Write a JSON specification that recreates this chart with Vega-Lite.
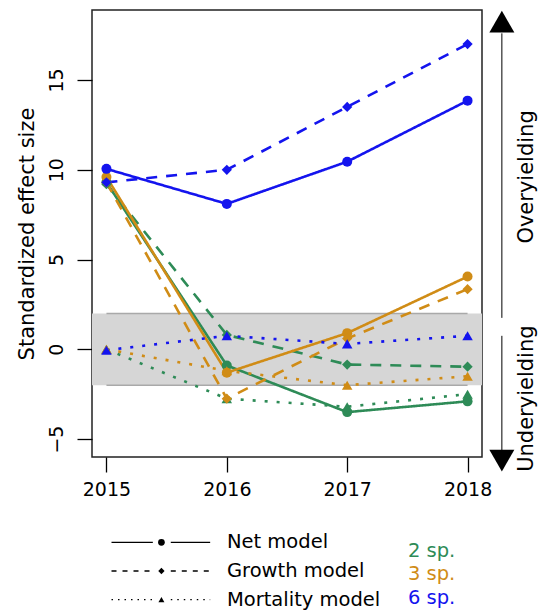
{
  "$schema": "https://vega.github.io/schema/vega-lite/v6.json",
  "padding": {"left": 15, "top": 9, "right": 0, "bottom": 0},
  "config": {
    "font": "DejaVu Sans",
    "text": {"font": "DejaVu Sans"},
    "axis": {"labelFont": "DejaVu Sans", "titleFont": "DejaVu Sans"}
  },
  "datasets": {
    "effects": [
      {"year": 2015, "species": "2 sp.", "model": "Net", "value": 9.3},
      {"year": 2016, "species": "2 sp.", "model": "Net", "value": -0.9},
      {"year": 2017, "species": "2 sp.", "model": "Net", "value": -3.5},
      {"year": 2018, "species": "2 sp.", "model": "Net", "value": -2.9},
      {"year": 2015, "species": "2 sp.", "model": "Growth", "value": 9.2},
      {"year": 2016, "species": "2 sp.", "model": "Growth", "value": 0.8},
      {"year": 2017, "species": "2 sp.", "model": "Growth", "value": -0.85},
      {"year": 2018, "species": "2 sp.", "model": "Growth", "value": -0.97},
      {"year": 2015, "species": "2 sp.", "model": "Mortality", "value": 0.0},
      {"year": 2016, "species": "2 sp.", "model": "Mortality", "value": -2.75},
      {"year": 2017, "species": "2 sp.", "model": "Mortality", "value": -3.2},
      {"year": 2018, "species": "2 sp.", "model": "Mortality", "value": -2.5},
      {"year": 2015, "species": "3 sp.", "model": "Net", "value": 9.6},
      {"year": 2016, "species": "3 sp.", "model": "Net", "value": -1.3},
      {"year": 2017, "species": "3 sp.", "model": "Net", "value": 0.9},
      {"year": 2018, "species": "3 sp.", "model": "Net", "value": 4.05},
      {"year": 2015, "species": "3 sp.", "model": "Growth", "value": 9.3},
      {"year": 2016, "species": "3 sp.", "model": "Growth", "value": -2.75},
      {"year": 2017, "species": "3 sp.", "model": "Growth", "value": 0.6},
      {"year": 2018, "species": "3 sp.", "model": "Growth", "value": 3.35},
      {"year": 2015, "species": "3 sp.", "model": "Mortality", "value": 0.0},
      {"year": 2016, "species": "3 sp.", "model": "Mortality", "value": -1.2},
      {"year": 2017, "species": "3 sp.", "model": "Mortality", "value": -2.0},
      {"year": 2018, "species": "3 sp.", "model": "Mortality", "value": -1.5},
      {"year": 2015, "species": "6 sp.", "model": "Net", "value": 10.05},
      {"year": 2016, "species": "6 sp.", "model": "Net", "value": 8.1},
      {"year": 2017, "species": "6 sp.", "model": "Net", "value": 10.45},
      {"year": 2018, "species": "6 sp.", "model": "Net", "value": 13.85},
      {"year": 2015, "species": "6 sp.", "model": "Growth", "value": 9.3},
      {"year": 2016, "species": "6 sp.", "model": "Growth", "value": 10.0},
      {"year": 2017, "species": "6 sp.", "model": "Growth", "value": 13.5},
      {"year": 2018, "species": "6 sp.", "model": "Growth", "value": 17.0},
      {"year": 2015, "species": "6 sp.", "model": "Mortality", "value": -0.05},
      {"year": 2016, "species": "6 sp.", "model": "Mortality", "value": 0.75},
      {"year": 2017, "species": "6 sp.", "model": "Mortality", "value": 0.3},
      {"year": 2018, "species": "6 sp.", "model": "Mortality", "value": 0.75}
    ],
    "models": [
      {"model": "Net model"},
      {"model": "Growth model"},
      {"model": "Mortality model"}
    ],
    "species": [
      {"species": "2 sp."},
      {"species": "3 sp."},
      {"species": "6 sp."}
    ]
  },
  "spacing": 28,
  "resolve": {"scale": {"color": "shared", "shape": "independent", "size": "independent", "strokeDash": "independent"}},
  "vconcat": [
    {
      "width": 390,
      "height": 447,
      "view": {"stroke": "#222", "strokeWidth": 1.5},
      "layer": [
        {
          "data": {"values": [{}]},
          "mark": {"type": "rect", "color": "#d6d6d6"},
          "encoding": {
            "y": {"datum": -2, "type": "quantitative"},
            "y2": {"datum": 2}
          }
        },
        {
          "data": {"values": [{"limit": -2}, {"limit": 2}]},
          "mark": {"type": "rule", "color": "#a9a9a9", "strokeWidth": 1.5},
          "encoding": {
            "x": {"datum": 2015, "type": "quantitative"},
            "x2": {"datum": 2018},
            "y": {"field": "limit", "type": "quantitative"}
          }
        },
        {
          "data": {"name": "effects"},
          "mark": {"type": "line", "strokeWidth": 2.6},
          "encoding": {
            "x": {
              "field": "year", "type": "quantitative",
              "scale": {"domain": [2014.88, 2018.12], "nice": false, "zero": false},
              "axis": {
                "values": [2015, 2016, 2017, 2018], "format": "d", "title": null,
                "grid": false, "domain": false, "tickSize": 15, "tickWidth": 1.3, "tickColor": "#000",
                "labelFontSize": 19, "labelColor": "#000", "labelPadding": 8, "labelFlush": false
              }
            },
            "y": {
              "field": "value", "type": "quantitative",
              "scale": {"domain": [-6, 18.9], "nice": false, "zero": false},
              "axis": {
                "values": [-5, 0, 5, 10, 15], "grid": false, "domain": false,
                "tickSize": 15, "tickWidth": 1.3, "tickColor": "#000",
                "labelAngle": 270, "labelAlign": "center", "labelBaseline": "bottom",
                "labelFontSize": 19, "labelColor": "#000", "labelPadding": 11,
                "title": "Standardized effect size", "titleFontSize": 21,
                "titleFontWeight": "normal", "titleColor": "#000", "titlePadding": 10
              }
            },
            "color": {
              "field": "species", "type": "nominal",
              "scale": {"domain": ["2 sp.", "3 sp.", "6 sp."], "range": ["#2e8b57", "#d08c16", "#1414ee"]},
              "legend": null
            },
            "strokeDash": {
              "field": "model", "type": "nominal",
              "scale": {"domain": ["Net", "Growth", "Mortality"], "range": [[1, 0], [11, 9], [3, 9]]},
              "legend": null
            },
            "order": {"field": "year"}
          }
        },
        {
          "data": {"name": "effects"},
          "mark": {"type": "point", "filled": true, "opacity": 1, "strokeWidth": 0},
          "encoding": {
            "x": {"field": "year", "type": "quantitative"},
            "y": {"field": "value", "type": "quantitative"},
            "color": {"field": "species", "type": "nominal", "legend": null},
            "shape": {
              "field": "model", "type": "nominal",
              "scale": {"domain": ["Net", "Growth", "Mortality"], "range": ["circle", "diamond", "triangle-up"]},
              "legend": null
            },
            "size": {
              "field": "model", "type": "nominal",
              "scale": {"domain": ["Net", "Growth", "Mortality"], "range": [100, 110, 210]},
              "legend": null
            }
          }
        },
        {
          "data": {"values": [{}]},
          "mark": {"type": "rule", "color": "#000", "strokeWidth": 1},
          "encoding": {
            "x": {"datum": 2018.285, "type": "quantitative"},
            "y": {"datum": 17.6, "type": "quantitative"},
            "y2": {"datum": 1.75}
          }
        },
        {
          "data": {"values": [{}]},
          "mark": {"type": "rule", "color": "#000", "strokeWidth": 1},
          "encoding": {
            "x": {"datum": 2018.285, "type": "quantitative"},
            "y": {"datum": 0.75, "type": "quantitative"},
            "y2": {"datum": -5.8}
          }
        },
        {
          "data": {"values": [{}]},
          "mark": {"type": "point", "shape": "triangle-up", "filled": true, "color": "#000", "opacity": 1, "size": 625, "strokeWidth": 0},
          "encoding": {
            "x": {"datum": 2018.285, "type": "quantitative"},
            "y": {"datum": 18.25, "type": "quantitative"}
          }
        },
        {
          "data": {"values": [{}]},
          "mark": {"type": "point", "shape": "triangle-down", "filled": true, "color": "#000", "opacity": 1, "size": 625, "strokeWidth": 0},
          "encoding": {
            "x": {"datum": 2018.285, "type": "quantitative"},
            "y": {"datum": -6.2, "type": "quantitative"}
          }
        },
        {
          "data": {"values": [{}]},
          "mark": {"type": "text", "text": "Overyielding", "angle": 270, "align": "center", "baseline": "middle", "fontSize": 21, "color": "#000"},
          "encoding": {
            "x": {"datum": 2018.49, "type": "quantitative"},
            "y": {"datum": 9.6, "type": "quantitative"}
          }
        },
        {
          "data": {"values": [{}]},
          "mark": {"type": "text", "text": "Underyielding", "angle": 270, "align": "center", "baseline": "middle", "fontSize": 21, "color": "#000"},
          "encoding": {
            "x": {"datum": 2018.49, "type": "quantitative"},
            "y": {"datum": -2.75, "type": "quantitative"}
          }
        }
      ]
    },
    {
      "width": 390,
      "height": 86,
      "view": {"stroke": null},
      "resolve": {"scale": {"y": "independent"}},
      "layer": [
        {
          "data": {"name": "models"},
          "mark": {"type": "rule", "color": "#000", "strokeWidth": 1.3},
          "encoding": {
            "x": {"datum": 5, "type": "quantitative", "scale": {"domain": [0, 100], "nice": false, "zero": false}, "axis": null},
            "x2": {"datum": 15.6},
            "y": {"field": "model", "type": "ordinal", "sort": ["Net model", "Growth model", "Mortality model"], "scale": {"type": "point", "padding": 0.5}, "axis": null},
            "strokeDash": {
              "field": "model", "type": "nominal",
              "scale": {"domain": ["Net model", "Growth model", "Mortality model"], "range": [[1, 0], [5, 6], [1.5, 5]]},
              "legend": null
            }
          }
        },
        {
          "data": {"name": "models"},
          "mark": {"type": "rule", "color": "#000", "strokeWidth": 1.3},
          "encoding": {
            "x": {"datum": 20.2, "type": "quantitative"},
            "x2": {"datum": 30.3},
            "y": {"field": "model", "type": "ordinal", "sort": ["Net model", "Growth model", "Mortality model"], "scale": {"type": "point", "padding": 0.5}, "axis": null},
            "strokeDash": {"field": "model", "type": "nominal", "legend": null}
          }
        },
        {
          "data": {"name": "models"},
          "mark": {"type": "point", "filled": true, "color": "#000", "opacity": 1, "strokeWidth": 0},
          "encoding": {
            "x": {"datum": 17.8, "type": "quantitative"},
            "y": {"field": "model", "type": "ordinal", "sort": ["Net model", "Growth model", "Mortality model"], "scale": {"type": "point", "padding": 0.5}, "axis": null},
            "shape": {
              "field": "model", "type": "nominal",
              "scale": {"domain": ["Net model", "Growth model", "Mortality model"], "range": ["circle", "diamond", "triangle-up"]},
              "legend": null
            },
            "size": {
              "field": "model", "type": "nominal",
              "scale": {"domain": ["Net model", "Growth model", "Mortality model"], "range": [45, 35, 55]},
              "legend": null
            }
          }
        },
        {
          "data": {"name": "models"},
          "mark": {"type": "text", "align": "left", "baseline": "middle", "fontSize": 19.5, "color": "#000"},
          "encoding": {
            "x": {"datum": 34.6, "type": "quantitative"},
            "y": {"field": "model", "type": "ordinal", "sort": ["Net model", "Growth model", "Mortality model"], "scale": {"type": "point", "padding": 0.5}, "axis": null},
            "text": {"field": "model"}
          }
        },
        {
          "data": {"name": "species"},
          "mark": {"type": "text", "align": "left", "baseline": "middle", "fontSize": 19.5},
          "encoding": {
            "x": {"datum": 81, "type": "quantitative"},
            "y": {"field": "species", "type": "ordinal", "scale": {"type": "point", "padding": 0.85, "align": 0.585}, "axis": null},
            "text": {"field": "species"},
            "color": {"field": "species", "type": "nominal", "legend": null}
          }
        }
      ]
    }
  ]
}
